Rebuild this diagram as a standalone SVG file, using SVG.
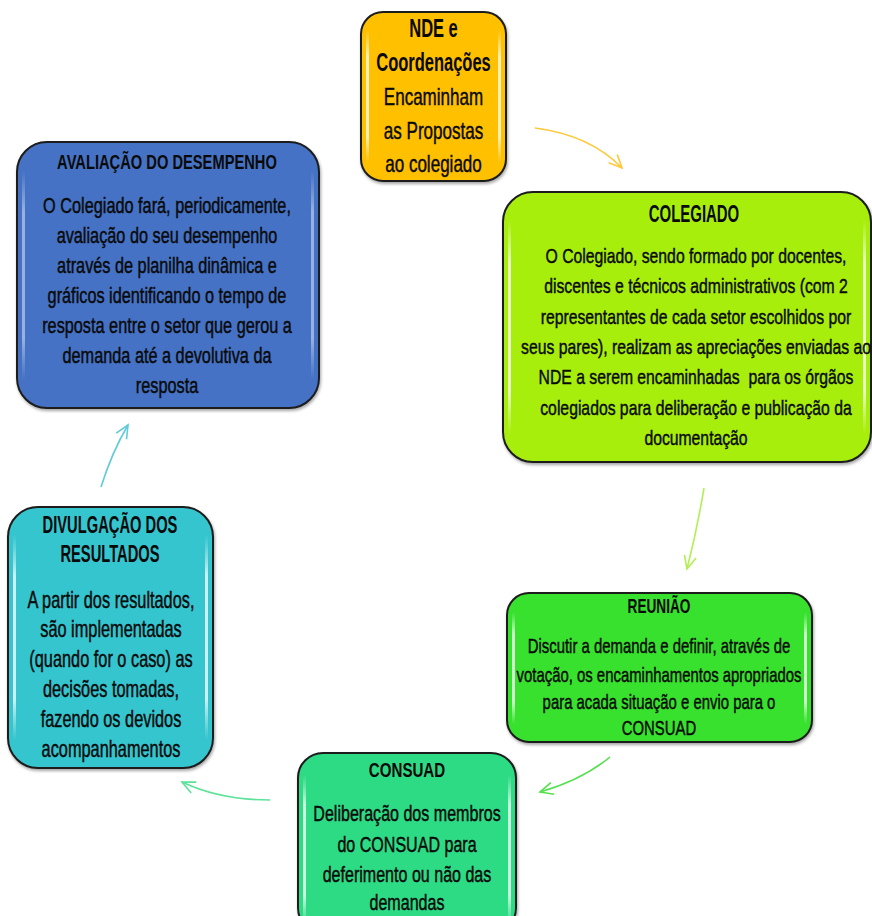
<svg xmlns="http://www.w3.org/2000/svg" width="872" height="916" viewBox="0 0 872 916">
<defs>
<style>
.box{stroke:#1c1c1c;stroke-width:2;filter:url(#sh)}
.hl{fill:url(#hg)}
.t{font-family:"Liberation Sans",Arial,sans-serif;font-weight:bold;fill:#0a0a0a;text-anchor:middle}
.b{font-family:"Liberation Sans",Arial,sans-serif;fill:#0a0a0a;stroke:#0a0a0a;stroke-width:0.45;text-anchor:middle}
.c{fill:none;stroke-width:1.6}
</style>
<filter id="sh" x="-10%" y="-10%" width="120%" height="120%">
<feDropShadow dx="1" dy="2" stdDeviation="1.5" flood-color="#000" flood-opacity="0.35"/>
</filter>
<linearGradient id="hg" x1="0" y1="0" x2="0" y2="1">
<stop offset="0" stop-color="#fff" stop-opacity="0"/>
<stop offset="0.2" stop-color="#fff" stop-opacity="0.75"/>
<stop offset="0.8" stop-color="#fff" stop-opacity="0.75"/>
<stop offset="1" stop-color="#fff" stop-opacity="0"/>
</linearGradient>
<marker id="m1" viewBox="-14 -8 16 16" markerWidth="16" markerHeight="16" refX="0" refY="0" orient="auto" markerUnits="userSpaceOnUse"><path d="M-13,-6 L0,0 L-13,6" fill="none" stroke="#FFC83A" stroke-width="1.6"/></marker>
<marker id="m2" viewBox="-14 -8 16 16" markerWidth="16" markerHeight="16" refX="0" refY="0" orient="auto" markerUnits="userSpaceOnUse"><path d="M-13,-6 L0,0 L-13,6" fill="none" stroke="#B2EE55" stroke-width="1.6"/></marker>
<marker id="m3" viewBox="-14 -8 16 16" markerWidth="16" markerHeight="16" refX="0" refY="0" orient="auto" markerUnits="userSpaceOnUse"><path d="M-13,-6 L0,0 L-13,6" fill="none" stroke="#55E04E" stroke-width="1.6"/></marker>
<marker id="m4" viewBox="-14 -8 16 16" markerWidth="16" markerHeight="16" refX="0" refY="0" orient="auto" markerUnits="userSpaceOnUse"><path d="M-13,-6 L0,0 L-13,6" fill="none" stroke="#5EE29A" stroke-width="1.6"/></marker>
<marker id="m5" viewBox="-14 -8 16 16" markerWidth="16" markerHeight="16" refX="0" refY="0" orient="auto" markerUnits="userSpaceOnUse"><path d="M-13,-6 L0,0 L-13,6" fill="none" stroke="#62CAD8" stroke-width="1.6"/></marker>
</defs>
<rect width="872" height="916" fill="#fff"/>

<g id="connectors">
<path class="c" stroke="#FFC83A" d="M535,128 Q590,135 622,168" marker-end="url(#m1)"/>
<path class="c" stroke="#B2EE55" d="M704,488 Q697,530 687,569" marker-end="url(#m2)"/>
<path class="c" stroke="#55E04E" d="M610,757 Q582,780 540,792" marker-end="url(#m3)"/>
<path class="c" stroke="#5EE29A" d="M270,800 Q220,800 182,782" marker-end="url(#m4)"/>
<path class="c" stroke="#62CAD8" d="M101,487 Q112,452 128,425" marker-end="url(#m5)"/>
</g>

<g id="nde">
<rect class="box" x="361" y="12" width="145" height="169" rx="22" fill="#FFC000"/>
<rect class="hl" x="366" y="30" width="3" height="133" rx="1.5"/>
<rect class="hl" x="498" y="30" width="3" height="133" rx="1.5"/>
<g transform="translate(433.5 0) scale(0.66 1)">
<text class="t" x="0" y="37" font-size="25">NDE e</text>
<text class="t" x="0" y="71" font-size="25">Coordenações</text>
</g>
<g transform="translate(433.5 0) scale(0.71 1)">
<text class="b" x="0" y="105" font-size="24">Encaminham</text>
<text class="b" x="0" y="139" font-size="24">as Propostas</text>
<text class="b" x="0" y="172" font-size="24">ao colegiado</text>
</g>
</g>

<g id="avaliacao">
<rect class="box" x="17" y="142" width="302" height="266" rx="30" fill="#4472C4"/>
<rect class="hl" x="22" y="170" width="3" height="210" rx="1.5" opacity="0.6"/>
<rect class="hl" x="311" y="170" width="3" height="210" rx="1.5" opacity="0.6"/>
<g transform="translate(167 0) scale(0.70 1)">
<text class="t" x="0" y="169" font-size="21">AVALIAÇÃO DO DESEMPENHO</text>
</g>
<g transform="translate(167 0) scale(0.74 1)">
<text class="b" x="0" y="213" font-size="22">O Colegiado fará, periodicamente,</text>
<text class="b" x="0" y="243" font-size="22">avaliação do seu desempenho</text>
<text class="b" x="0" y="273" font-size="22">através de planilha dinâmica e</text>
<text class="b" x="0" y="303" font-size="22">gráficos identificando o tempo de</text>
<text class="b" x="0" y="333" font-size="22">resposta entre o setor que gerou a</text>
<text class="b" x="0" y="363" font-size="22">demanda até a devolutiva da</text>
<text class="b" x="0" y="393" font-size="22">resposta</text>
</g>
</g>

<g id="colegiado">
<rect class="box" x="503" y="192" width="368" height="270" rx="30" fill="#A8EE10"/>
<rect class="hl" x="508" y="220" width="3" height="214" rx="1.5"/>
<rect class="hl" x="863" y="220" width="3" height="214" rx="1.5"/>
<g transform="translate(694 0) scale(0.65 1)">
<text class="t" x="0" y="222" font-size="23">COLEGIADO</text>
</g>
<g transform="translate(696 0) scale(0.75 1)">
<text class="b" x="0" y="263" font-size="21">O Colegiado, sendo formado por docentes,</text>
<text class="b" x="0" y="293" font-size="21">discentes e técnicos administrativos (com 2</text>
<text class="b" x="0" y="324" font-size="21">representantes de cada setor escolhidos por</text>
<text class="b" x="0" y="354" font-size="21">seus pares), realizam as apreciações enviadas ao</text>
<text class="b" x="0" y="384" font-size="21" xml:space="preserve">NDE a serem encaminhadas  para os órgãos</text>
<text class="b" x="0" y="415" font-size="21">colegiados para deliberação e publicação da</text>
<text class="b" x="0" y="445" font-size="21">documentação</text>
</g>
</g>

<g id="reuniao">
<rect class="box" x="507" y="593" width="305" height="149" rx="22" fill="#38E12E"/>
<rect class="hl" x="512" y="612" width="3" height="112" rx="1.5"/>
<rect class="hl" x="804" y="612" width="3" height="112" rx="1.5"/>
<g transform="translate(659 0) scale(0.65 1)">
<text class="t" x="0" y="613" font-size="21">REUNIÃO</text>
</g>
<g transform="translate(659 0) scale(0.71 1)">
<text class="b" x="0" y="653" font-size="21">Discutir a demanda e definir, através de</text>
<text class="b" x="0" y="682" font-size="21">votação, os encaminhamentos apropriados</text>
<text class="b" x="0" y="709" font-size="21">para acada situação e envio para o</text>
<text class="b" x="0" y="735" font-size="21">CONSUAD</text>
</g>
</g>

<g id="consuad">
<rect class="box" x="298" y="753" width="218" height="180" rx="25" fill="#2EDB85"/>
<rect class="hl" x="303" y="775" width="3" height="150" rx="1.5"/>
<rect class="hl" x="508" y="775" width="3" height="150" rx="1.5"/>
<g transform="translate(407 0) scale(0.72 1)">
<text class="t" x="0" y="777" font-size="21">CONSUAD</text>
</g>
<g transform="translate(407 0) scale(0.73 1)">
<text class="b" x="0" y="821" font-size="22">Deliberação dos membros</text>
<text class="b" x="0" y="852" font-size="22">do CONSUAD para</text>
<text class="b" x="0" y="882" font-size="22">deferimento ou não das</text>
<text class="b" x="0" y="910" font-size="22">demandas</text>
</g>
</g>

<g id="divulgacao">
<rect class="box" x="8" y="507" width="205" height="261" rx="30" fill="#36C5CF"/>
<rect class="hl" x="13" y="535" width="3" height="205" rx="1.5"/>
<rect class="hl" x="205" y="535" width="3" height="205" rx="1.5"/>
<g transform="translate(110 0) scale(0.64 1)">
<text class="t" x="0" y="533" font-size="23">DIVULGAÇÃO DOS</text>
<text class="t" x="0" y="562" font-size="23">RESULTADOS</text>
</g>
<g transform="translate(111 0) scale(0.71 1)">
<text class="b" x="0" y="608" font-size="23">A partir dos resultados,</text>
<text class="b" x="0" y="637" font-size="23">são implementadas</text>
<text class="b" x="0" y="667" font-size="23">(quando for o caso) as</text>
<text class="b" x="0" y="697" font-size="23">decisões tomadas,</text>
<text class="b" x="0" y="727" font-size="23">fazendo os devidos</text>
<text class="b" x="0" y="757" font-size="23">acompanhamentos</text>
</g>
</g>
</svg>
